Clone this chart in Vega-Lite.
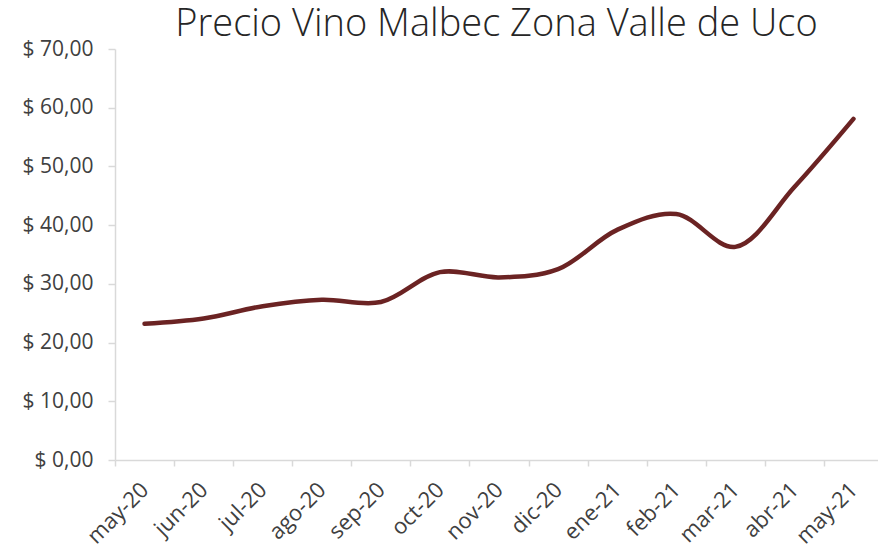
{
  "$schema": "https://vega.github.io/schema/vega-lite/v6.json",
  "autosize": {"type": "none"},
  "width": 763,
  "height": 411,
  "padding": {"left": 115, "top": 49, "right": 0, "bottom": 94},
  "background": "white",
  "title": {
    "text": "Precio Vino Malbec Zona Valle de Uco",
    "font": "Open Sans",
    "fontSize": 38,
    "fontWeight": 300,
    "color": "#262626",
    "anchor": "middle",
    "baseline": "alphabetic",
    "offset": -4,
    "dy": 32
  },
  "data": {
    "values": [
      {"mes": "may-20", "precio": 23.2},
      {"mes": "jun-20", "precio": 24.1},
      {"mes": "jul-20", "precio": 26.2},
      {"mes": "ago-20", "precio": 27.3},
      {"mes": "sep-20", "precio": 26.9},
      {"mes": "oct-20", "precio": 32.0},
      {"mes": "nov-20", "precio": 31.1},
      {"mes": "dic-20", "precio": 32.5},
      {"mes": "ene-21", "precio": 39.2},
      {"mes": "feb-21", "precio": 41.9},
      {"mes": "mar-21", "precio": 36.3},
      {"mes": "abr-21", "precio": 46.5},
      {"mes": "may-21", "precio": 58.1}
    ]
  },
  "mark": {
    "type": "line",
    "interpolate": "catmull-rom",
    "color": "#6b2323",
    "strokeWidth": 4.5,
    "strokeCap": "round",
    "clip": false
  },
  "encoding": {
    "x": {
      "field": "mes",
      "type": "ordinal",
      "sort": null,
      "scale": {"type": "band", "range": [0, 768], "paddingInner": 0, "paddingOuter": 0},
      "axis": {
        "title": null,
        "labelAngle": -45,
        "labelAlign": "right",
        "labelBaseline": "middle",
        "labelFont": "Open Sans",
        "labelFontSize": 22,
        "labelColor": "#404040",
        "labelPadding": 20,
        "labelOffset": 0,
        "domainColor": "#d9d9d9",
        "domainWidth": 1.5,
        "tickColor": "#d9d9d9",
        "tickWidth": 1.5,
        "tickSize": 6,
        "tickBand": "extent",
        "grid": false
      }
    },
    "y": {
      "field": "precio",
      "type": "quantitative",
      "scale": {"domain": [0, 70]},
      "axis": {
        "title": null,
        "values": [0, 10, 20, 30, 40, 50, 60, 70],
        "labelExpr": "'$ ' + replace(format(datum.value, '.2f'), '.', ',')",
        "labelFont": "Open Sans",
        "labelFontSize": 21,
        "labelColor": "#404040",
        "labelPadding": 15,
        "domainColor": "#d9d9d9",
        "domainWidth": 1.5,
        "tickColor": "#d9d9d9",
        "tickWidth": 1.5,
        "tickSize": 7,
        "grid": false
      }
    }
  },
  "config": {"view": {"stroke": null}}
}
